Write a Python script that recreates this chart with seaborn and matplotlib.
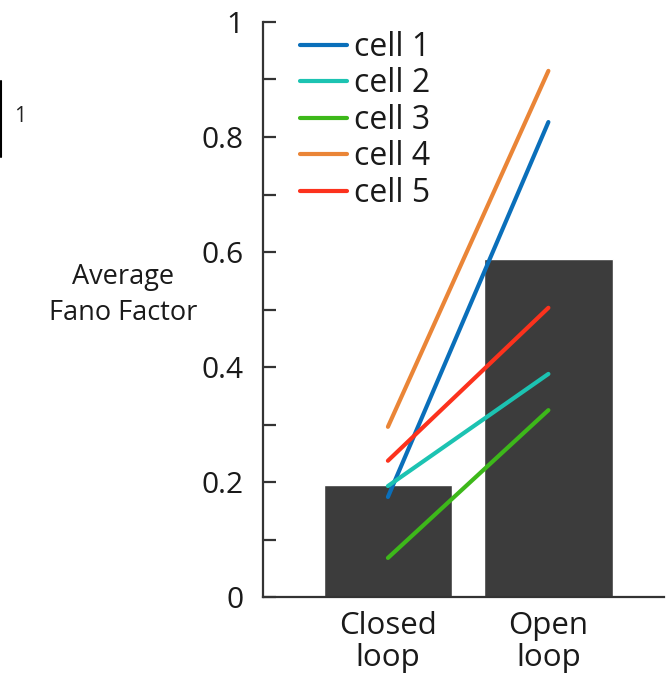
import pandas as pd
import matplotlib
matplotlib.use('Agg')
import matplotlib.pyplot as plt
import seaborn as sns
from matplotlib.lines import Line2D

sns.set_style('white')
plt.rcParams['font.family'] = ['Open Sans', 'DejaVu Sans']

conditions = ['Closed\nloop', 'Open\nloop']
mean_fano = [0.195, 0.588]

cells = ['cell 1', 'cell 2', 'cell 3', 'cell 4', 'cell 5']
closed_vals = [0.174, 0.193, 0.068, 0.296, 0.237]
open_vals = [0.826, 0.388, 0.325, 0.915, 0.503]
cell_colors = ['#0a6fba', '#1cc3b2', '#3db81a', '#ea8537', '#fc321d']

bars = pd.DataFrame({'condition': conditions, 'fano': mean_fano})
lines = pd.DataFrame({
    'cell': cells * 2,
    'pos': [0] * len(cells) + [1] * len(cells),
    'fano': closed_vals + open_vals,
})

fig = plt.figure(figsize=(6.72, 6.81), dpi=100)
ax = fig.add_axes([0.391, 0.1233, 0.597, 0.8444])

sns.barplot(data=bars, x='condition', y='fano', color='#3c3c3c',
            saturation=1, width=0.8, ax=ax)
sns.lineplot(data=lines, x='pos', y='fano', hue='cell', palette=cell_colors,
             linewidth=3.0, ax=ax, legend=False)

ax.set_xlim(-0.78, 1.72)
ax.set_ylim(0, 1)
ax.set_xticks([0, 1])
ax.set_xticklabels(conditions)
ax.set_yticks([0, 0.2, 0.4, 0.6, 0.8, 1.0])
ax.set_yticklabels(['0', '0.2', '0.4', '0.6', '0.8', '1'])
ax.set_yticks([0.1, 0.3, 0.5, 0.7, 0.9], minor=True)
ax.tick_params(axis='y', which='both', direction='in', length=9, width=1.6,
               color='#333333', labelsize=21.5, pad=14, left=True,
               labelcolor='#1a1a1a')
ax.tick_params(axis='x', length=0, labelsize=22.5, pad=10, labelcolor='#1a1a1a')
for lab in ax.get_xticklabels():
    lab.set_linespacing(1.1)

for side in ['top', 'right']:
    ax.spines[side].set_visible(False)
for side in ['left', 'bottom']:
    ax.spines[side].set_linewidth(1.6)
    ax.spines[side].set_color('#333333')

ax.set_xlabel('')
ax.set_ylabel('Average\nFano Factor', rotation=0, fontsize=19.5,
              linespacing=1.4, ha='center', va='center', color='#1a1a1a')
ax.yaxis.set_label_coords(-0.349, 0.525)

handles = [Line2D([], [], color=c, linewidth=3.0) for c in cell_colors]
ax.legend(handles, cells, loc='upper left', bbox_to_anchor=(0.062, 1.007),
          frameon=False, fontsize=23, handlelength=1.45, handletextpad=0.22,
          labelspacing=0.11, borderaxespad=0, labelcolor='#1a1a1a')

# small scale mark at top left
fig.add_artist(Line2D([0.002, 0.002], [1 - 81 / 681, 1 - 157 / 681],
                      color='black', linewidth=1.5))
fig.text(0.021, 1 - 117 / 681, '1', fontsize=15, va='center', color='#222222')

fig.savefig('out.png', dpi=100)
